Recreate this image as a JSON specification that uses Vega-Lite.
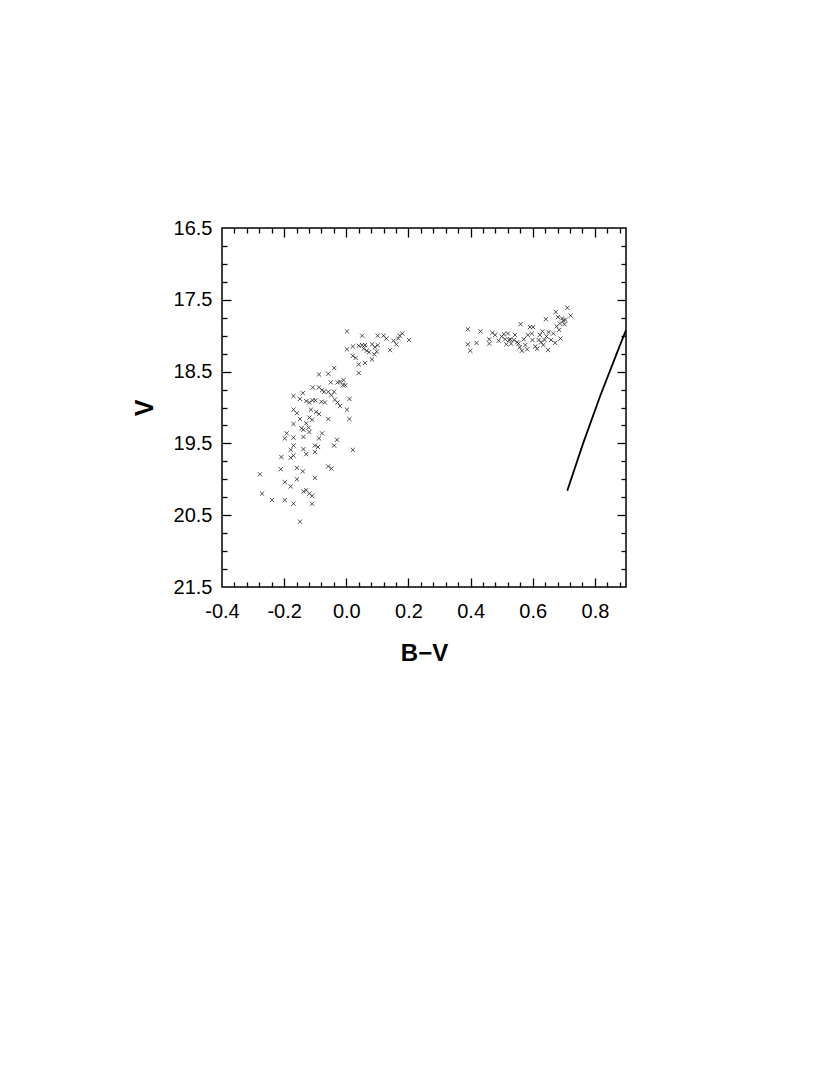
{
  "$schema": "https://vega.github.io/schema/vega-lite/v6.json",
  "width": 404,
  "height": 359,
  "autosize": {"type": "none"},
  "padding": {"left": 222, "top": 228, "right": 204, "bottom": 498},
  "background": "white",
  "config": {
    "view": {"stroke": "black", "strokeWidth": 1.5},
    "axis": {"labelFont": "Liberation Sans", "titleFont": "Liberation Sans", "labelColor": "black", "titleColor": "black", "tickColor": "black", "tickWidth": 1.3, "grid": false, "domain": false, "labelFlush": false, "labelOverlap": false}
  },
  "datasets": {
    "pts": [
      {"bv": 0.002, "v": 17.94}, {"bv": 0.051, "v": 18.00}, {"bv": 0.101, "v": 18.00}, {"bv": 0.120, "v": 18.00},
      {"bv": 0.129, "v": 18.04}, {"bv": 0.152, "v": 18.07}, {"bv": 0.167, "v": 18.04}, {"bv": 0.180, "v": 17.97},
      {"bv": 0.172, "v": 18.00}, {"bv": 0.161, "v": 18.12}, {"bv": 0.202, "v": 18.06}, {"bv": 0.002, "v": 18.19},
      {"bv": 0.021, "v": 18.15}, {"bv": 0.040, "v": 18.14}, {"bv": 0.051, "v": 18.13}, {"bv": 0.060, "v": 18.13},
      {"bv": 0.056, "v": 18.18}, {"bv": 0.066, "v": 18.21}, {"bv": 0.073, "v": 18.23}, {"bv": 0.083, "v": 18.12},
      {"bv": 0.101, "v": 18.13}, {"bv": 0.092, "v": 18.16}, {"bv": 0.098, "v": 18.22}, {"bv": 0.090, "v": 18.26},
      {"bv": 0.083, "v": 18.33}, {"bv": 0.141, "v": 18.20}, {"bv": 0.021, "v": 18.28}, {"bv": 0.030, "v": 18.31},
      {"bv": 0.040, "v": 18.40}, {"bv": 0.060, "v": 18.38}, {"bv": 0.040, "v": 18.52}, {"bv": -0.039, "v": 18.45},
      {"bv": -0.088, "v": 18.54}, {"bv": -0.058, "v": 18.53}, {"bv": -0.050, "v": 18.65}, {"bv": -0.028, "v": 18.65},
      {"bv": -0.020, "v": 18.64}, {"bv": -0.009, "v": 18.62}, {"bv": -0.003, "v": 18.69}, {"bv": -0.011, "v": 18.69},
      {"bv": -0.108, "v": 18.72}, {"bv": -0.088, "v": 18.72}, {"bv": -0.078, "v": 18.76}, {"bv": -0.071, "v": 18.78},
      {"bv": -0.058, "v": 18.78}, {"bv": -0.039, "v": 18.78}, {"bv": -0.048, "v": 18.83}, {"bv": -0.080, "v": 18.92},
      {"bv": -0.069, "v": 18.93}, {"bv": -0.037, "v": 18.89}, {"bv": -0.028, "v": 18.93}, {"bv": -0.020, "v": 18.98},
      {"bv": 0.010, "v": 18.88}, {"bv": -0.170, "v": 18.84}, {"bv": -0.149, "v": 18.88}, {"bv": -0.140, "v": 18.80},
      {"bv": -0.129, "v": 18.91}, {"bv": -0.119, "v": 18.93}, {"bv": -0.108, "v": 18.90}, {"bv": -0.099, "v": 18.90},
      {"bv": -0.114, "v": 19.03}, {"bv": -0.097, "v": 19.06}, {"bv": -0.088, "v": 19.09}, {"bv": -0.170, "v": 19.03},
      {"bv": -0.159, "v": 19.08}, {"bv": -0.149, "v": 19.16}, {"bv": -0.119, "v": 19.14}, {"bv": -0.110, "v": 19.17},
      {"bv": -0.058, "v": 19.16}, {"bv": 0.002, "v": 19.03}, {"bv": 0.010, "v": 19.16}, {"bv": -0.170, "v": 19.23},
      {"bv": -0.129, "v": 19.22}, {"bv": -0.144, "v": 19.29}, {"bv": -0.138, "v": 19.31}, {"bv": -0.121, "v": 19.28},
      {"bv": -0.119, "v": 19.34}, {"bv": -0.192, "v": 19.36}, {"bv": -0.198, "v": 19.43}, {"bv": -0.170, "v": 19.42},
      {"bv": -0.138, "v": 19.41}, {"bv": -0.088, "v": 19.43}, {"bv": -0.078, "v": 19.36}, {"bv": -0.170, "v": 19.53},
      {"bv": -0.179, "v": 19.59}, {"bv": -0.138, "v": 19.58}, {"bv": -0.129, "v": 19.65}, {"bv": -0.101, "v": 19.53},
      {"bv": -0.091, "v": 19.55}, {"bv": -0.101, "v": 19.62}, {"bv": -0.039, "v": 19.53}, {"bv": -0.030, "v": 19.45},
      {"bv": 0.021, "v": 19.59}, {"bv": -0.209, "v": 19.69}, {"bv": -0.179, "v": 19.70}, {"bv": -0.170, "v": 19.67},
      {"bv": -0.211, "v": 19.86}, {"bv": -0.159, "v": 19.84}, {"bv": -0.140, "v": 19.89}, {"bv": -0.058, "v": 19.82},
      {"bv": -0.048, "v": 19.85}, {"bv": -0.278, "v": 19.93}, {"bv": -0.198, "v": 20.04}, {"bv": -0.179, "v": 20.10},
      {"bv": -0.159, "v": 20.00}, {"bv": -0.101, "v": 19.98}, {"bv": -0.271, "v": 20.20}, {"bv": -0.239, "v": 20.29},
      {"bv": -0.198, "v": 20.29}, {"bv": -0.170, "v": 20.34}, {"bv": -0.138, "v": 20.17}, {"bv": -0.129, "v": 20.15},
      {"bv": -0.119, "v": 20.20}, {"bv": -0.110, "v": 20.23}, {"bv": -0.110, "v": 20.34}, {"bv": -0.149, "v": 20.59},
      {"bv": 0.391, "v": 17.91}, {"bv": 0.432, "v": 17.94}, {"bv": 0.391, "v": 18.12}, {"bv": 0.399, "v": 18.21},
      {"bv": 0.419, "v": 18.10}, {"bv": 0.460, "v": 18.05}, {"bv": 0.460, "v": 18.11}, {"bv": 0.470, "v": 17.96},
      {"bv": 0.479, "v": 17.99}, {"bv": 0.490, "v": 18.07}, {"bv": 0.500, "v": 18.01}, {"bv": 0.507, "v": 17.98},
      {"bv": 0.511, "v": 18.05}, {"bv": 0.515, "v": 18.12}, {"bv": 0.520, "v": 17.97}, {"bv": 0.524, "v": 18.06},
      {"bv": 0.530, "v": 18.11}, {"bv": 0.539, "v": 18.06}, {"bv": 0.543, "v": 17.99}, {"bv": 0.550, "v": 18.09},
      {"bv": 0.561, "v": 17.84}, {"bv": 0.558, "v": 18.16}, {"bv": 0.565, "v": 18.21}, {"bv": 0.571, "v": 18.05},
      {"bv": 0.576, "v": 18.13}, {"bv": 0.582, "v": 18.19}, {"bv": 0.584, "v": 17.99}, {"bv": 0.591, "v": 17.88},
      {"bv": 0.597, "v": 17.97}, {"bv": 0.599, "v": 18.06}, {"bv": 0.601, "v": 17.88}, {"bv": 0.608, "v": 18.15},
      {"bv": 0.614, "v": 18.18}, {"bv": 0.623, "v": 17.99}, {"bv": 0.627, "v": 18.09}, {"bv": 0.631, "v": 17.94},
      {"bv": 0.634, "v": 18.13}, {"bv": 0.642, "v": 17.77}, {"bv": 0.644, "v": 18.01}, {"bv": 0.649, "v": 18.20},
      {"bv": 0.651, "v": 17.95}, {"bv": 0.659, "v": 18.06}, {"bv": 0.666, "v": 17.97}, {"bv": 0.672, "v": 18.10},
      {"bv": 0.677, "v": 17.87}, {"bv": 0.674, "v": 17.67}, {"bv": 0.681, "v": 17.74}, {"bv": 0.685, "v": 17.92},
      {"bv": 0.687, "v": 17.83}, {"bv": 0.689, "v": 18.04}, {"bv": 0.694, "v": 17.76}, {"bv": 0.698, "v": 17.79},
      {"bv": 0.702, "v": 17.84}, {"bv": 0.705, "v": 17.78}, {"bv": 0.711, "v": 17.61}, {"bv": 0.722, "v": 17.72},
      {"bv": 0.554, "v": 18.11}, {"bv": 0.528, "v": 18.05}, {"bv": 0.619, "v": 18.06}, {"bv": 0.638, "v": 18.06}
    ],
    "curve": [
      {"bv": 0.711, "v": 20.16}, {"bv": 0.762, "v": 19.50}, {"bv": 0.816, "v": 18.85},
      {"bv": 0.870, "v": 18.25}, {"bv": 0.900, "v": 17.92}
    ]
  },
  "resolve": {"axis": {"x": "independent", "y": "independent"}},
  "layer": [
    {
      "data": {"name": "pts"},
      "mark": {"type": "point", "shape": "M-1,-1L1,1M-1,1L1,-1", "size": 18, "filled": false, "stroke": "#222", "strokeWidth": 0.8, "opacity": 1},
      "encoding": {
        "x": {"field": "bv", "type": "quantitative", "scale": {"domain": [-0.4, 0.9], "nice": false, "zero": false},
          "axis": {"orient": "bottom", "values": [-0.4, -0.2, 0, 0.2, 0.4, 0.6, 0.8], "ticks": false, "labelPadding": 14, "labelFontSize": 20,
            "labelExpr": "replace(format(datum.value, '.1f'), '\u2212', '-')",
            "title": "B\u2212V", "titleFontSize": 24, "titleFontWeight": "bold", "titlePadding": 20}},
        "y": {"field": "v", "type": "quantitative", "scale": {"domain": [16.5, 21.5], "reverse": true, "nice": false, "zero": false},
          "axis": {"orient": "left", "values": [16.5, 17.5, 18.5, 19.5, 20.5, 21.5], "ticks": false, "labelPadding": 10, "labelFontSize": 20,
            "labelExpr": "format(datum.value, '.1f')",
            "title": "V", "titleFontSize": 25, "titleFontWeight": "bold", "titlePadding": 16}}
      }
    },
    {
      "data": {"name": "curve"},
      "mark": {"type": "line", "color": "black", "strokeWidth": 1.8, "clip": true},
      "encoding": {
        "x": {"field": "bv", "type": "quantitative", "scale": {"domain": [-0.4, 0.9], "nice": false, "zero": false},
          "axis": {"orient": "bottom", "values": [-0.2, 0, 0.2, 0.4, 0.6, 0.8], "labels": false, "tickSize": -9, "title": null}},
        "y": {"field": "v", "type": "quantitative", "scale": {"domain": [16.5, 21.5], "reverse": true, "nice": false, "zero": false},
          "axis": {"orient": "left", "values": [17.5, 18.5, 19.5, 20.5], "labels": false, "tickSize": -9, "title": null}}
      }
    },
    {
      "data": {"name": "curve"},
      "mark": {"type": "line", "opacity": 0},
      "encoding": {
        "x": {"field": "bv", "type": "quantitative", "scale": {"domain": [-0.4, 0.9], "nice": false, "zero": false},
          "axis": {"orient": "bottom", "values": [-0.36, -0.32, -0.28, -0.24, -0.16, -0.12, -0.08, -0.04, 0.04, 0.08, 0.12, 0.16, 0.24, 0.28, 0.32, 0.36, 0.44, 0.48, 0.52, 0.56, 0.64, 0.68, 0.72, 0.76, 0.84, 0.88], "labels": false, "tickSize": -5, "title": null}},
        "y": {"field": "v", "type": "quantitative", "scale": {"domain": [16.5, 21.5], "reverse": true, "nice": false, "zero": false},
          "axis": {"orient": "left", "values": [16.75, 17.0, 17.25, 17.75, 18.0, 18.25, 18.75, 19.0, 19.25, 19.75, 20.0, 20.25, 20.75, 21.0, 21.25], "labels": false, "tickSize": -5, "title": null}}
      }
    },
    {
      "data": {"name": "curve"},
      "mark": {"type": "line", "opacity": 0},
      "encoding": {
        "x": {"field": "bv", "type": "quantitative", "scale": {"domain": [-0.4, 0.9], "nice": false, "zero": false},
          "axis": {"orient": "top", "values": [-0.2, 0, 0.2, 0.4, 0.6, 0.8], "labels": false, "tickSize": -9, "title": null}},
        "y": {"field": "v", "type": "quantitative", "scale": {"domain": [16.5, 21.5], "reverse": true, "nice": false, "zero": false},
          "axis": {"orient": "right", "values": [17.5, 18.5, 19.5, 20.5], "labels": false, "tickSize": -9, "title": null}}
      }
    },
    {
      "data": {"name": "curve"},
      "mark": {"type": "line", "opacity": 0},
      "encoding": {
        "x": {"field": "bv", "type": "quantitative", "scale": {"domain": [-0.4, 0.9], "nice": false, "zero": false},
          "axis": {"orient": "top", "values": [-0.36, -0.32, -0.28, -0.24, -0.16, -0.12, -0.08, -0.04, 0.04, 0.08, 0.12, 0.16, 0.24, 0.28, 0.32, 0.36, 0.44, 0.48, 0.52, 0.56, 0.64, 0.68, 0.72, 0.76, 0.84, 0.88], "labels": false, "tickSize": -5, "title": null}},
        "y": {"field": "v", "type": "quantitative", "scale": {"domain": [16.5, 21.5], "reverse": true, "nice": false, "zero": false},
          "axis": {"orient": "right", "values": [16.75, 17.0, 17.25, 17.75, 18.0, 18.25, 18.75, 19.0, 19.25, 19.75, 20.0, 20.25, 20.75, 21.0, 21.25], "labels": false, "tickSize": -5, "title": null}}
      }
    }
  ]
}
